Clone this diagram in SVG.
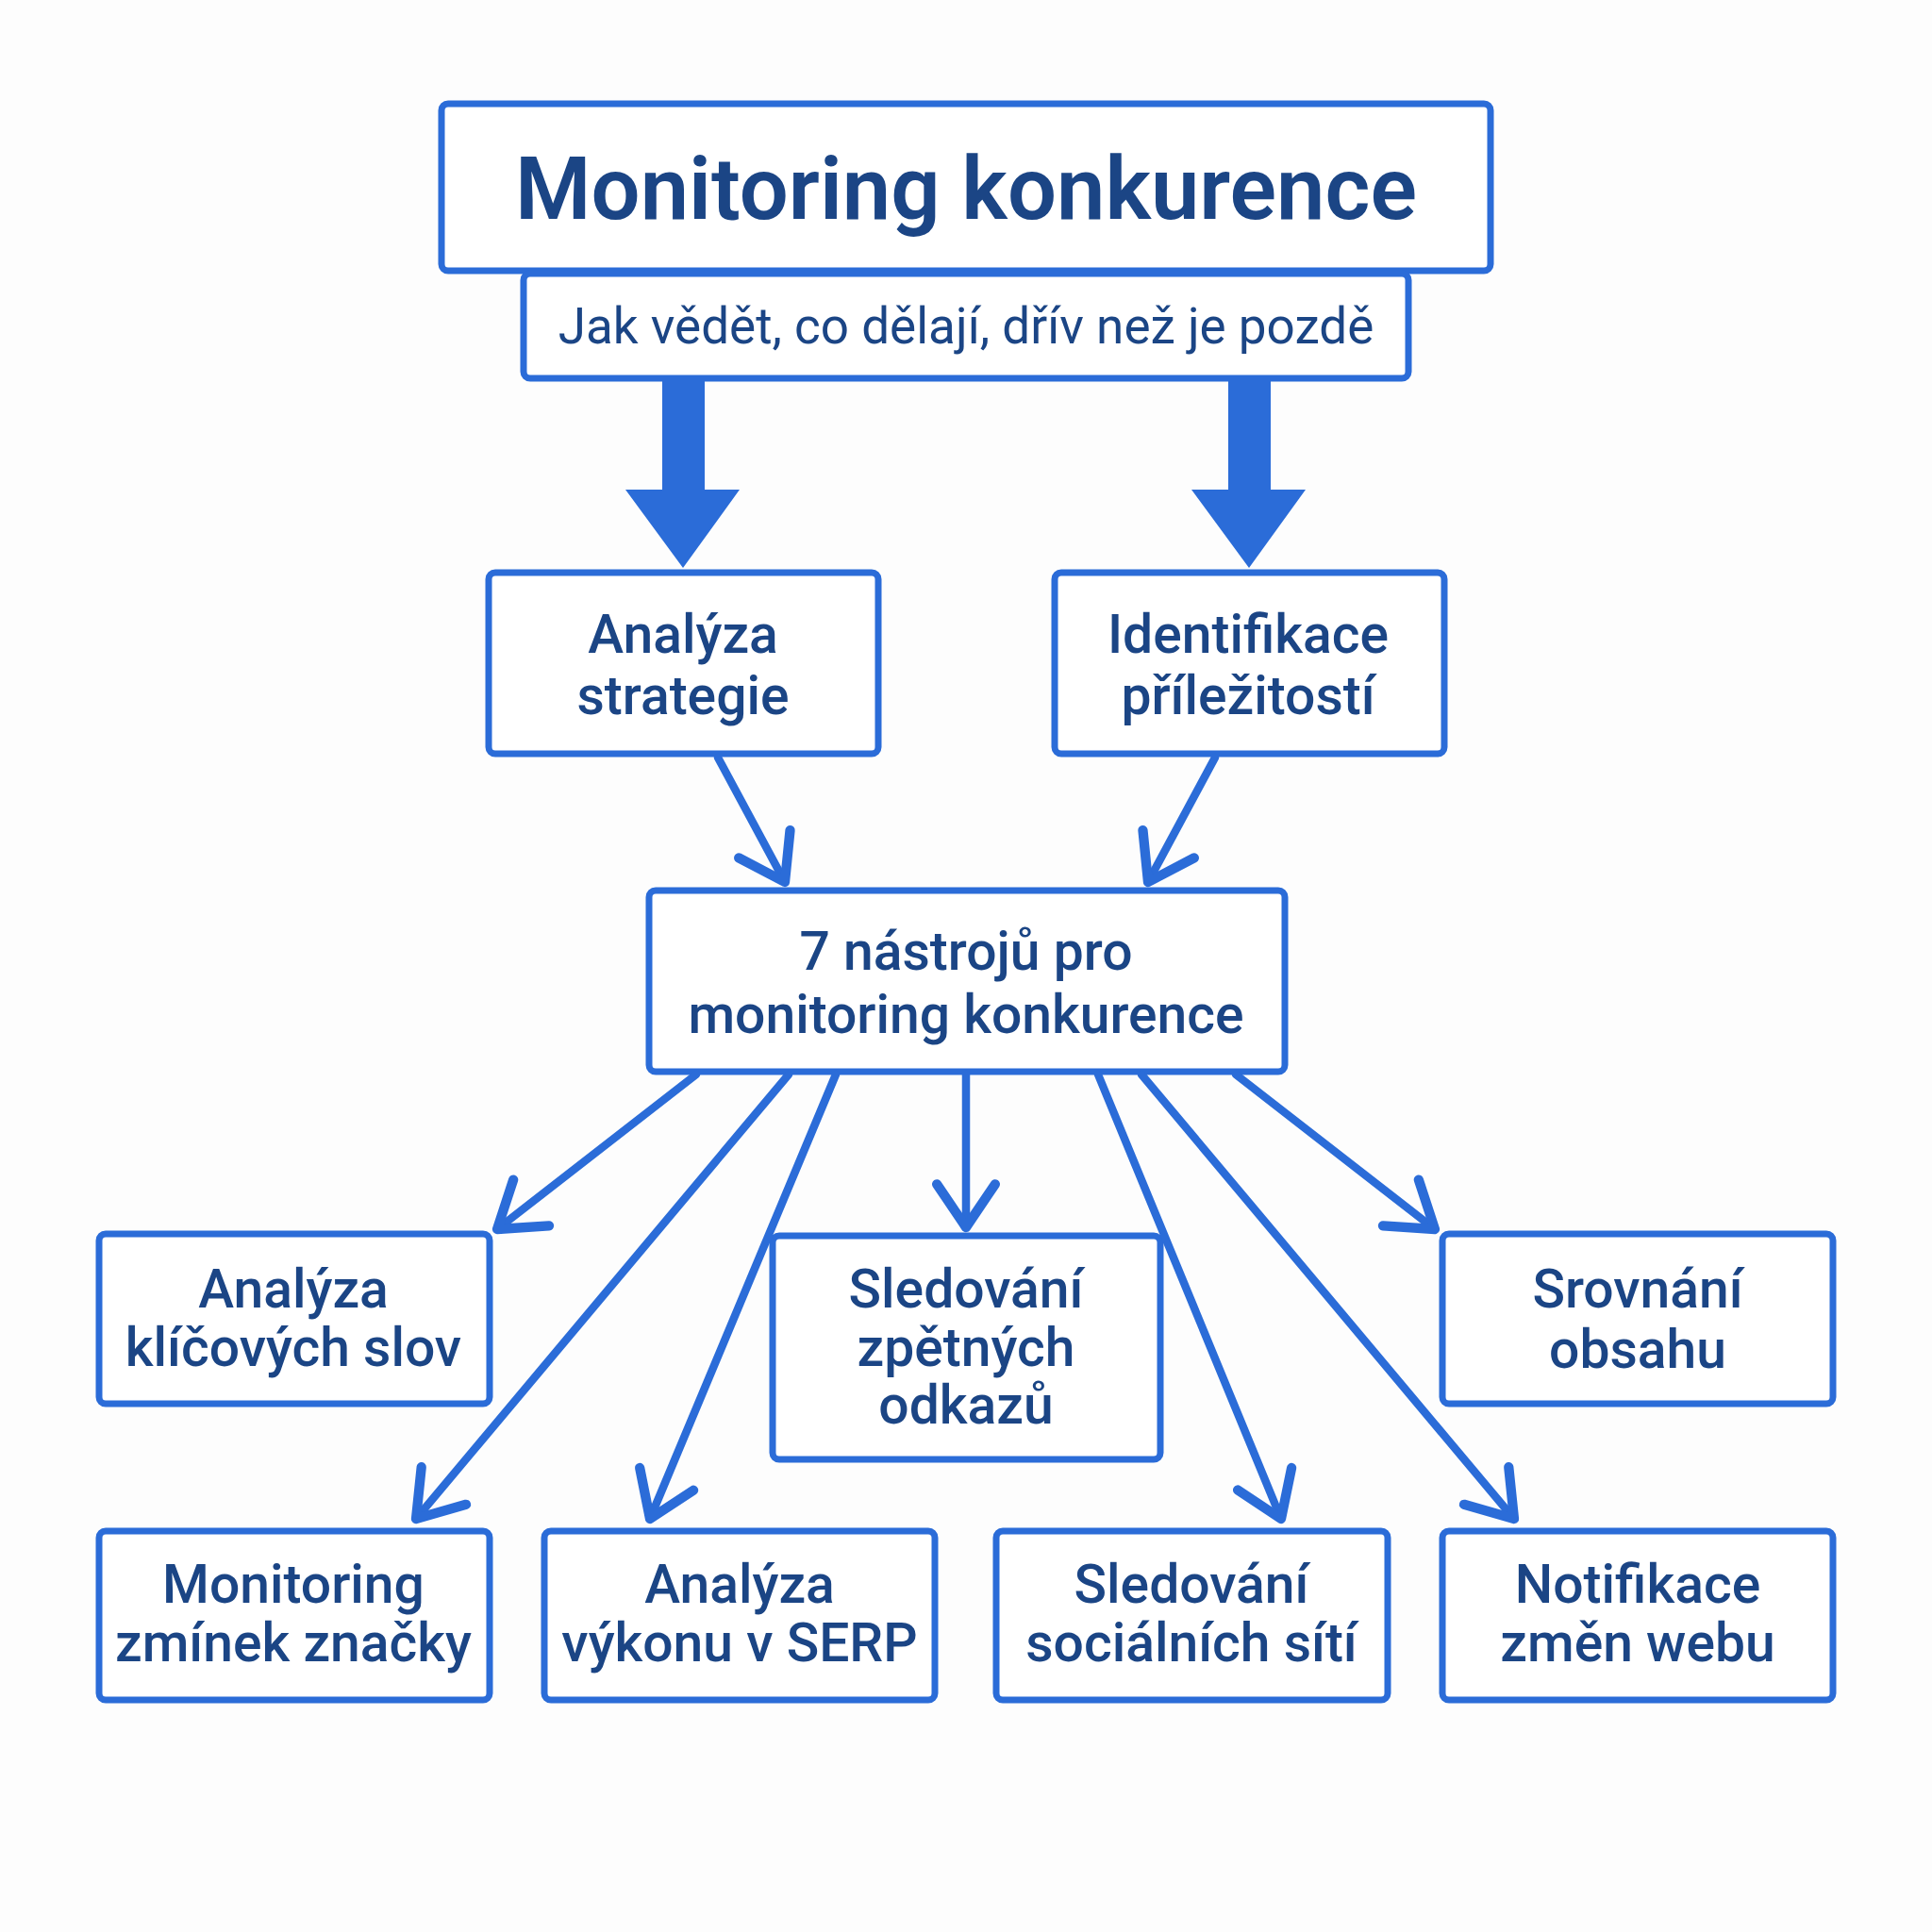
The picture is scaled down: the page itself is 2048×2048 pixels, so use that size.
<svg xmlns="http://www.w3.org/2000/svg" width="2048" height="2048" viewBox="0 0 2048 2048">
<defs>
<style>
.box{fill:#ffffff;stroke:#2b6cd8;stroke-width:7;}
.t{font-family:Roboto,"Liberation Sans",sans-serif;fill:#1b4585;text-anchor:middle;}
.title{font-size:92px;font-weight:600;}
.sub{font-size:53px;font-weight:400;}
.n{font-size:57px;font-weight:500;}
.c{fill:none;stroke:#2b6cd8;stroke-width:8.5;stroke-linecap:round;}
.big{fill:#2b6cd8;}
</style>
<marker id="ah" markerUnits="userSpaceOnUse" markerWidth="80" markerHeight="80" refX="0" refY="0" viewBox="-45 -35 55 70" orient="auto" overflow="visible">
<path d="M -40 -27 L 0 0 L -40 27" fill="none" stroke="#2b6cd8" stroke-width="9" stroke-linecap="round" stroke-linejoin="round"/>
</marker>
</defs>
<rect width="2048" height="2048" fill="#fdfdfd"/>

<g id="title">
<rect class="box" x="468" y="110" width="1112" height="177" rx="7"/>
<text class="t title" x="1024" y="232">Monitoring konkurence</text>
</g>
<g id="subtitle">
<rect class="box" x="555" y="290" width="938" height="111" rx="7"/>
<text class="t sub" x="1024" y="364">Jak vědět, co dělají, dřív než je pozdě</text>
</g>

<g id="n-strategie">
<rect class="box" x="518" y="607" width="413" height="192" rx="7"/>
<text class="t n" x="724" y="692">Analýza</text>
<text class="t n" x="724" y="757">strategie</text>
</g>
<g id="n-prilezitosti">
<rect class="box" x="1118" y="607" width="413" height="192" rx="7"/>
<text class="t n" x="1323" y="692">Identifikace</text>
<text class="t n" x="1323" y="757">příležitostí</text>
</g>
<g id="n-nastroje">
<rect class="box" x="688" y="944" width="674" height="192" rx="7"/>
<text class="t n" x="1024" y="1028">7 nástrojů pro</text>
<text class="t n" x="1024" y="1095">monitoring konkurence</text>
</g>

<g id="n-klicova-slova">
<rect class="box" x="105" y="1308" width="414" height="180" rx="7"/>
<text class="t n" x="311" y="1386">Analýza</text>
<text class="t n" x="311" y="1448">klíčových slov</text>
</g>
<g id="n-zpetne-odkazy">
<rect class="box" x="819" y="1310" width="411" height="237" rx="7"/>
<text class="t n" x="1024" y="1386">Sledování</text>
<text class="t n" x="1024" y="1448">zpětných</text>
<text class="t n" x="1024" y="1509">odkazů</text>
</g>
<g id="n-obsah">
<rect class="box" x="1529" y="1308" width="414" height="180" rx="7"/>
<text class="t n" x="1736" y="1386">Srovnání</text>
<text class="t n" x="1736" y="1450">obsahu</text>
</g>
<g id="n-zminky">
<rect class="box" x="105" y="1623" width="414" height="179" rx="7"/>
<text class="t n" x="311" y="1699">Monitoring</text>
<text class="t n" x="311" y="1761">zmínek značky</text>
</g>
<g id="n-serp">
<rect class="box" x="577" y="1623" width="414" height="179" rx="7"/>
<text class="t n" x="784" y="1699">Analýza</text>
<text class="t n" x="784" y="1761">výkonu v SERP</text>
</g>
<g id="n-socialni">
<rect class="box" x="1056" y="1623" width="415" height="179" rx="7"/>
<text class="t n" x="1263" y="1699">Sledování</text>
<text class="t n" x="1263" y="1761">sociálních sítí</text>
</g>
<g id="n-notifikace">
<rect class="box" x="1529" y="1623" width="414" height="179" rx="7"/>
<text class="t n" x="1736" y="1699">Notifikace</text>
<text class="t n" x="1736" y="1761">změn webu</text>
</g>

<g id="connectors">
<polygon class="big" points="702,402 747,402 747,519 784,519 724,602 663,519 702,519"/>
<polygon class="big" points="1302,402 1347,402 1347,519 1384,519 1324,602 1263,519 1302,519"/>
<line class="c" x1="761" y1="803" x2="832" y2="935" marker-end="url(#ah)"/>
<line class="c" x1="1288" y1="803" x2="1217" y2="935" marker-end="url(#ah)"/>
<line class="c" x1="738" y1="1139" x2="527" y2="1303" marker-end="url(#ah)"/>
<line class="c" x1="836" y1="1139" x2="441" y2="1610" marker-end="url(#ah)"/>
<line class="c" x1="886" y1="1139" x2="689" y2="1610" marker-end="url(#ah)"/>
<line class="c" x1="1024" y1="1139" x2="1024" y2="1301" marker-end="url(#ah)"/>
<line class="c" x1="1164" y1="1139" x2="1358" y2="1610" marker-end="url(#ah)"/>
<line class="c" x1="1210" y1="1139" x2="1605" y2="1610" marker-end="url(#ah)"/>
<line class="c" x1="1310" y1="1139" x2="1521" y2="1303" marker-end="url(#ah)"/>
</g>
</svg>
